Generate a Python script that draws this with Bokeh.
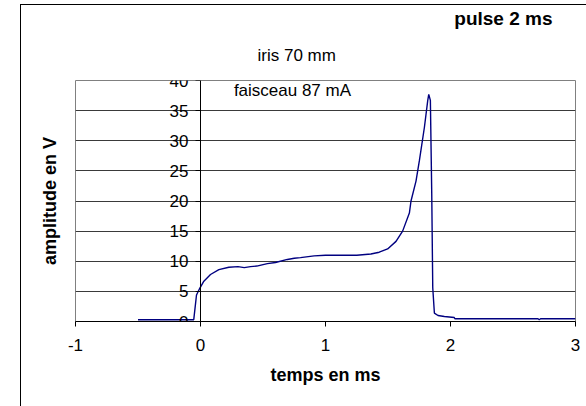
from bokeh.plotting import figure
from bokeh.models import Range1d, FixedTicker, Label, Title, LinearAxis
from bokeh.embed import file_html
from bokeh.resources import INLINE

# ---- data ----
temps_ms = [-0.50, -0.30, -0.10, -0.054, -0.032, -0.005, 0.027, 0.08, 0.147, 0.227,
            0.30, 0.35, 0.40, 0.45, 0.535, 0.60, 0.695, 0.75, 0.80, 0.909,
            1.0, 1.10, 1.19, 1.25, 1.363, 1.43, 1.497, 1.564, 1.617, 1.671,
            1.684, 1.724, 1.751, 1.791, 1.818, 1.826, 1.839, 1.85, 1.858, 1.871,
            1.90, 1.951, 2.03, 2.035, 2.06, 2.50, 2.70, 2.71, 2.72, 3.0]
amplitude_v = [0.28, 0.3, 0.3, 0.3, 4.4, 5.55, 6.7, 7.8, 8.6, 9.0,
               9.1, 8.95, 9.1, 9.2, 9.6, 9.8, 10.3, 10.5, 10.6, 10.9,
               11.0, 11.0, 11.0, 11.0, 11.2, 11.5, 12.05, 13.3, 15.0, 18.0,
               20.0, 23.3, 26.7, 32.2, 36.7, 37.7, 36.7, 21.1, 5.6, 1.4,
               1.0, 0.83, 0.67, 0.45, 0.45, 0.45, 0.45, 0.3, 0.45, 0.45]

x_ticks = [-1, 0, 1, 2, 3]
x_tick_labels = ["-1", "0", "1", "2", "3"]
y_ticks = [0, 5, 10, 15, 20, 25, 30, 35, 40]
y_tick_labels = ["0", "5", "10", "15", "20", "25", "30", "35", "40"]

FONT = "Liberation Sans"

p = figure(width=566, height=402, output_backend="svg", toolbar_location=None,
           x_range=Range1d(-1, 3), y_range=Range1d(0, 40),
           min_border_left=54, min_border_right=12, min_border_top=75, min_border_bottom=86,
           background_fill_color="white", border_fill_color="white",
           styles={"margin-left": "20px", "margin-top": "4px",
                   "border-left": "1px solid black", "border-top": "1px solid black"})

p.outline_line_color = "#808080"
p.outline_line_width = 1

# axes
p.xaxis.ticker = FixedTicker(ticks=x_ticks)
p.xaxis.major_label_overrides = {t: l for t, l in zip(x_ticks, x_tick_labels)}
p.yaxis.ticker = FixedTicker(ticks=y_ticks)
p.yaxis.major_label_overrides = {t: l for t, l in zip(y_ticks, y_tick_labels)}
p.yaxis.fixed_location = 0
for ax in (p.xaxis, p.yaxis):
    ax.axis_line_color = "black"
    ax.major_tick_line_color = "black"
    ax.major_tick_out = 5
    ax.major_tick_in = 0
    ax.minor_tick_line_color = None
    ax.major_label_text_font = FONT
    ax.major_label_text_font_size = "17px"
    ax.major_label_text_color = "black"
p.xaxis.major_label_standoff = 12
p.yaxis.major_label_standoff = 7

p.xaxis.axis_label = "temps en ms"
p.xaxis.axis_label_text_font = FONT
p.xaxis.axis_label_text_font_size = "18px"
p.xaxis.axis_label_text_font_style = "bold"
p.xaxis.axis_label_text_color = "black"
p.xaxis.axis_label_standoff = 11

ylab_axis = LinearAxis(ticker=FixedTicker(ticks=[]), axis_line_color=None,
                       major_tick_line_color=None, minor_tick_line_color=None,
                       axis_label="amplitude en V", axis_label_text_font=FONT,
                       axis_label_text_font_size="18px", axis_label_text_font_style="bold",
                       axis_label_text_color="black", axis_label_standoff=16)
p.add_layout(ylab_axis, "left")

p.xgrid.grid_line_color = None
p.ygrid.ticker = FixedTicker(ticks=y_ticks)
p.ygrid.grid_line_color = "#3a3a3a"
p.ygrid.grid_line_width = 1

p.line(temps_ms, amplitude_v, line_color="#000080", line_width=1.4)

# titles above the plot area (first one is the outermost)
p.title.text = "pulse 2 ms"
p.title.align = "right"
p.title.offset = 23
p.title.text_font = FONT
p.title.text_font_size = "19px"
p.title.text_font_style = "bold"
p.title.text_color = "black"
p.title.standoff = -3
p.add_layout(Title(text="iris 70 mm", align="left", offset=182, text_font=FONT,
                   text_font_size="17px", text_font_style="normal", text_color="black",
                   standoff=32), "above")

p.add_layout(Label(x=0.267, y=38.4, text="faisceau 87 mA", text_font=FONT, text_font_size="17px",
                   text_color="black", text_align="left", text_baseline="middle"))

open("out.html", "w").write(file_html(p, INLINE))
